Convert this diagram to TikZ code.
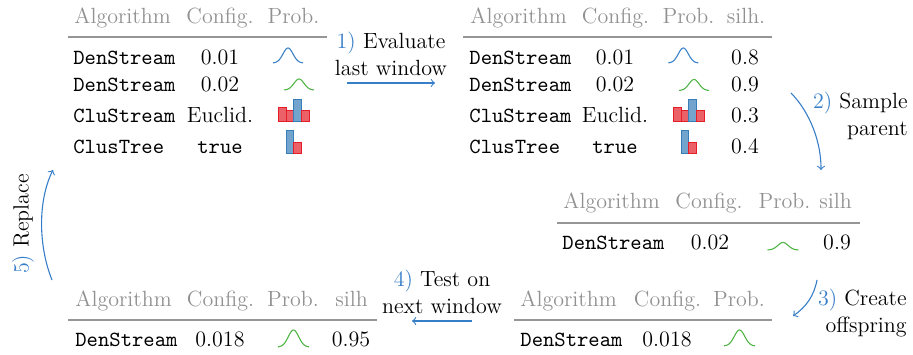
\documentclass[tikz,border=0pt]{standalone}
\usepackage{tikz}
\definecolor{stepblue}{RGB}{55,126,200}
\definecolor{curveblue}{RGB}{60,130,200}
\definecolor{curvegreen}{RGB}{80,180,70}
\definecolor{hdrgray}{RGB}{145,145,145}
\definecolor{rulegray}{RGB}{150,150,150}
\definecolor{barred}{RGB}{228,30,40}
\definecolor{barblue}{RGB}{55,126,184}
\begin{document}
\begin{tikzpicture}[x=0.5pt,y=-0.5pt,font=\fontsize{11}{13.5}\selectfont,
  hdr/.style={text=hdrgray,inner sep=0pt,anchor=base},
  hdrL/.style={hdr,anchor=base west},
  algo/.style={inner sep=0pt,anchor=base west,font=\fontsize{10.8}{13.5}\selectfont\ttfamily},
  val/.style={inner sep=0pt,anchor=base},
  ttval/.style={val,font=\fontsize{10.8}{13.5}\selectfont\ttfamily},
  tabrule/.style={draw=rulegray,line width=0.6pt},
  bell/.style={line width=0.55pt},
  redbar/.style={draw=barred,fill=barred,fill opacity=0.7,line width=0.5pt},
  bluebar/.style={draw=barblue,fill=barblue,fill opacity=0.7,line width=0.5pt},
  flow/.style={->,draw=stepblue,line width=0.55pt},
  lbl/.style={inner sep=0pt,anchor=base}
]
\useasboundingbox (0,0) rectangle (913,354);

% ---------- Table 1 ----------
\node[hdrL] (t1h1) at (74,23.5) {Algorithm};
\node[hdr] (t1h2) at (220,23.5) {Config.};
\node[hdr] (t1h3) at (293.5,23.5) {Prob.};
\draw[tabrule] (68,37) -- (327,37);
\node[algo] (t1a1) at (73,64) {DenStream};
\node[algo] (t1a2) at (73,91) {DenStream};
\node[algo] (t1a3) at (73,122) {CluStream};
\node[algo] (t1a4) at (73,153) {ClusTree};
\node[val] (t1c1) at (220,64) {0.01};
\node[val] (t1c2) at (220,91) {0.02};
\node[val] (t1c3) at (220,122) {Euclid.};
\node[ttval] (t1c4) at (220,153) {true};
\draw[bell,curveblue] plot[domain=-3:3,samples=41,smooth] ({288+5*\x},{63-15*exp(-0.5*\x*\x)});
\draw[bell,curvegreen] plot[domain=-3:3,samples=41,smooth] ({299+5*\x},{90-11*exp(-0.5*\x*\x)});
\filldraw[redbar] (278.3,121.8) rectangle (286.1,107.3);
\filldraw[redbar] (286.1,121.8) rectangle (293.9,110.7);
\filldraw[bluebar] (293.9,121.8) rectangle (301.7,99);
\filldraw[redbar] (301.7,121.8) rectangle (309.5,110.7);
\filldraw[bluebar] (286.1,153.8) rectangle (293.9,130.7);
\filldraw[redbar] (293.9,153.8) rectangle (301.7,142.3);

% ---------- Table 2 ----------
\node[hdrL] (t2h1) at (470,23.5) {Algorithm};
\node[hdr] (t2h2) at (615.5,23.5) {Config.};
\node[hdr] (t2h3) at (688.5,23.5) {Prob.};
\node[hdr] (t2h4) at (746,23.5) {silh.};
\draw[tabrule] (463,37) -- (772,37);
\node[algo] (t2a1) at (469,64) {DenStream};
\node[algo] (t2a2) at (469,91) {DenStream};
\node[algo] (t2a3) at (469,122) {CluStream};
\node[algo] (t2a4) at (469,153) {ClusTree};
\node[val] (t2c1) at (615,64) {0.01};
\node[val] (t2c2) at (615,91) {0.02};
\node[val] (t2c3) at (615,122) {Euclid.};
\node[ttval] (t2c4) at (615,153) {true};
\node[val] (t2s1) at (745,64) {0.8};
\node[val] (t2s2) at (745,91) {0.9};
\node[val] (t2s3) at (745,122) {0.3};
\node[val] (t2s4) at (745,153) {0.4};
\draw[bell,curveblue] plot[domain=-3:3,samples=41,smooth] ({683.3+5*\x},{63-15*exp(-0.5*\x*\x)});
\draw[bell,curvegreen] plot[domain=-3:3,samples=41,smooth] ({694+5*\x},{90.5-11*exp(-0.5*\x*\x)});
\filldraw[redbar] (673.3,121.8) rectangle (681.1,107.3);
\filldraw[redbar] (681.1,121.8) rectangle (688.9,110.7);
\filldraw[bluebar] (688.9,121.8) rectangle (696.7,99);
\filldraw[redbar] (696.7,121.8) rectangle (704.5,110.7);
\filldraw[bluebar] (681.1,153.8) rectangle (688.9,130.7);
\filldraw[redbar] (688.9,153.8) rectangle (696.7,142.3);

% ---------- Table 3 ----------
\node[hdrL] (t3h1) at (563,208.3) {Algorithm};
\node[hdr] (t3h2) at (709,208.3) {Config.};
\node[hdr] (t3h3) at (784.5,208.3) {Prob.};
\node[hdr] (t3h4) at (835.5,208.3) {silh};
\draw[tabrule] (557,223) -- (860,223);
\node[algo] (t3a1) at (562,249) {DenStream};
\node[val] (t3c1) at (710,249) {0.02};
\node[val] (t3s1) at (837,249) {0.9};
\draw[bell,curvegreen] plot[domain=-3:3,samples=41,smooth] ({783+5.2*\x},{250-7.5*exp(-0.5*\x*\x)});

% ---------- Table 4 ----------
\node[hdrL] (t4h1) at (520,306.7) {Algorithm};
\node[hdr] (t4h2) at (667.5,306.7) {Config.};
\node[hdr] (t4h3) at (739,306.7) {Prob.};
\draw[tabrule] (514,320) -- (772,320);
\node[algo] (t4a1) at (520,346.5) {DenStream};
\node[val] (t4c1) at (667,346.5) {0.018};
\draw[bell,curvegreen] plot[domain=-3:3,samples=41,smooth] ({739.5+5.2*\x},{346-16*exp(-0.5*\x*\x)});

% ---------- Table 5 ----------
\node[hdrL] (t5h1) at (75,306.7) {Algorithm};
\node[hdr] (t5h2) at (220.5,306.7) {Config.};
\node[hdr] (t5h3) at (293,306.7) {Prob.};
\node[hdr] (t5h4) at (351.5,306.7) {silh};
\draw[tabrule] (68,320) -- (377,320);
\node[algo] (t5a1) at (75,346) {DenStream};
\node[val] (t5c1) at (220,346) {0.018};
\node[val] (t5s1) at (351,346) {0.95};
\draw[bell,curvegreen] plot[domain=-3:3,samples=41,smooth] ({293.5+5.2*\x},{347-17*exp(-0.5*\x*\x)});

% ---------- Step labels ----------
\node[lbl] (l1) at (391,48.3) {\begin{tabular}[t]{@{}c@{}}\textcolor{stepblue}{1)} Evaluate\\last window\end{tabular}};
\node[lbl,anchor=base east] (l2) at (908,108) {\begin{tabular}[t]{@{}r@{}}\textcolor{stepblue}{2)} Sample\\parent\end{tabular}};
\node[lbl,anchor=base east] (l3) at (907,305) {\begin{tabular}[t]{@{}r@{}}\textcolor{stepblue}{3)} Create\\offspring\end{tabular}};
\node[lbl] (l4) at (442,286.7) {\begin{tabular}[t]{@{}c@{}}\textcolor{stepblue}{4)} Test on\\next window\end{tabular}};
\node[lbl,rotate=90] (l5) at (28.5,224) {\textcolor{stepblue}{5)} Replace};

% ---------- Arrows ----------
\coordinate (a1s) at (347,83);
\coordinate (a1e) at (435,83);
\coordinate (a2s) at (791,93);
\coordinate (a2e) at (821,170);
\coordinate (a3s) at (817,280);
\coordinate (a3e) at (793,316);
\coordinate (a4s) at (472,321);
\coordinate (a4e) at (412,321);
\coordinate (a5s) at (52,280);
\coordinate (a5e) at (53,170);
\draw[flow] (a1s) -- (a1e);
\draw[flow] (a2s) .. controls (805,107) and (821,135) .. (a2e);
\draw[flow] (a3s) .. controls (814,296) and (806,307) .. (a3e);
\draw[flow] (a4s) -- (a4e);
\draw[flow] (a5s) .. controls (38,245) and (38,200) .. (a5e);
\end{tikzpicture}
\end{document}
